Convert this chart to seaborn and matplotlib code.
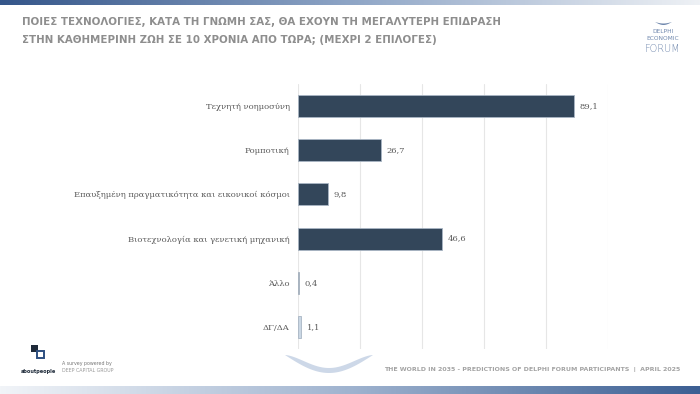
import numpy as np
import pandas as pd
import matplotlib
matplotlib.use("Agg")
import matplotlib.pyplot as plt
import seaborn as sns
from matplotlib.colors import LinearSegmentedColormap
from matplotlib.patches import Rectangle, Polygon

# chart data
categories = [
    "Τεχνητή νοημοσύνη",
    "Ρομποτική",
    "Επαυξημένη πραγματικότητα και εικονικοί κόσμοι",
    "Βιοτεχνολογία και γενετική μηχανική",
    "Άλλο",
    "ΔΓ/ΔΑ",
]
values = [89.1, 26.7, 9.8, 46.6, 0.4, 1.1]
bar_colors = ["#2c4660", "#2c4660", "#2c4660", "#2c4660", "#7a7a7a", "#c6d7e8"]

title_lines = [
    "ΠΟΙΕΣ ΤΕΧΝΟΛΟΓΙΕΣ, ΚΑΤΑ ΤΗ ΓΝΩΜΗ ΣΑΣ, ΘΑ ΕΧΟΥΝ ΤΗ ΜΕΓΑΛΥΤΕΡΗ ΕΠΙΔΡΑΣΗ",
    "ΣΤΗΝ ΚΑΘΗΜΕΡΙΝΗ ΖΩΗ ΣΕ 10 ΧΡΟΝΙΑ ΑΠΟ ΤΩΡΑ; (ΜΕΧΡΙ 2 ΕΠΙΛΟΓΕΣ)",
]
footer = "THE WORLD IN 2035 - PREDICTIONS OF DELPHI FORUM PARTICIPANTS  |  APRIL 2025"

sns.set_theme(style="white")
plt.rcParams["font.family"] = ["DejaVu Sans"]

W, H = 700, 394
fig = plt.figure(figsize=(7, 3.94), dpi=100)
fig.patch.set_facecolor("white")

# decoration layer in pixel coordinates
deco = fig.add_axes([0, 0, 1, 1], zorder=-1)
deco.set_xlim(0, W)
deco.set_ylim(H, 0)
deco.axis("off")

grad = np.linspace(0, 1, 256).reshape(1, -1)
top_cmap = LinearSegmentedColormap.from_list("top", ["#35568a", "#8ea5c6", "#eef1f5"])
bot_cmap = LinearSegmentedColormap.from_list("bot", ["#f1f4f8", "#9fb3cf", "#3c5f93"])
deco.imshow(grad, cmap=top_cmap, extent=[0, W, 5, 0], aspect="auto")
deco.imshow(grad, cmap=bot_cmap, extent=[0, W, H, 386], aspect="auto")

# swoosh near the bottom
t = np.linspace(0, 1, 60)
outer_x = 285 + 88 * t
outer_y = 355 + 18 * np.sin(np.pi * t)
inner_y = 355 + 13 * np.sin(np.pi * t) ** 1.6
swoosh = np.vstack([np.column_stack([outer_x, outer_y]),
                    np.column_stack([outer_x[::-1], inner_y[::-1]])])
deco.add_patch(Polygon(swoosh, closed=True, color="#cdd8e8", lw=0))

# title
for i, line in enumerate(title_lines):
    deco.text(22, 22 + 18 * i, line, fontsize=7.4, fontweight="bold",
              color="#8e8e8e", va="center", ha="left")

# delphi logo
lt = np.linspace(0, 1, 30)
logo = np.vstack([np.column_stack([655 + 17 * lt, 22 + 3 * np.sin(np.pi * lt)]),
                  np.column_stack([(655 + 17 * lt)[::-1], (22 + 1.5 * np.sin(np.pi * lt))[::-1]])])
deco.add_patch(Polygon(logo, closed=True, color="#6f87ad", lw=0))
deco.text(663, 31, "DELPHI", fontsize=4.2, color="#6f87ad", ha="center", va="center")
deco.text(663, 38, "ECONOMIC", fontsize=4.2, color="#6f87ad", ha="center", va="center")
deco.text(663, 49, "FORUM", fontsize=7, color="#6f87ad", ha="center", va="center",
          fontweight="light")

# aboutpeople logo
deco.add_patch(Rectangle((31, 345), 7, 7, color="#1f2b3a", lw=0))
deco.add_patch(Rectangle((37, 351), 7, 7, facecolor="white", edgecolor="#2d4f80", lw=1.4))
deco.text(38, 372, "aboutpeople", fontsize=3.6, fontweight="bold", color="#1f2b3a",
          ha="center", va="center")
deco.text(62, 363, "A survey powered by", fontsize=3.4, color="#777777", va="center")
deco.text(62, 370, "DEEP CAPITAL GROUP", fontsize=3.4, color="#999999", va="center")

deco.text(680, 369, footer, fontsize=4.5, fontweight="bold", color="#a3a3a3",
          ha="right", va="center")

# bar chart
ax = fig.add_axes([298 / W, 1 - 349 / H, 310 / W, 265 / H])
df = pd.DataFrame({"Technology": categories, "Percent": values})
sns.barplot(data=df, x="Percent", y="Technology", hue="Technology",
            palette=dict(zip(categories, bar_colors)), width=0.5,
            edgecolor="#a9b6c4", linewidth=0.6, legend=False, ax=ax)

ax.set_xlim(0, 100)
ax.set_xticks(range(0, 101, 20))
ax.xaxis.grid(True, color="#e6e6e6", lw=0.8)
ax.set_axisbelow(True)
ax.tick_params(axis="both", length=0, labelbottom=False, pad=6)
for lab in ax.get_yticklabels():
    lab.set_fontfamily("DejaVu Serif")
    lab.set_fontsize(6)
    lab.set_color("#5a5a5a")
ax.set_xlabel("")
ax.set_ylabel("")
ax.set_facecolor("none")
for s in ax.spines.values():
    s.set_visible(False)

for cont in ax.containers:
    ax.bar_label(cont, labels=[f"{v:.1f}".replace(".", ",") for v in cont.datavalues],
                 padding=4, fontsize=6, color="#5a5a5a", family="DejaVu Serif")

fig.savefig("out.png", dpi=100)
